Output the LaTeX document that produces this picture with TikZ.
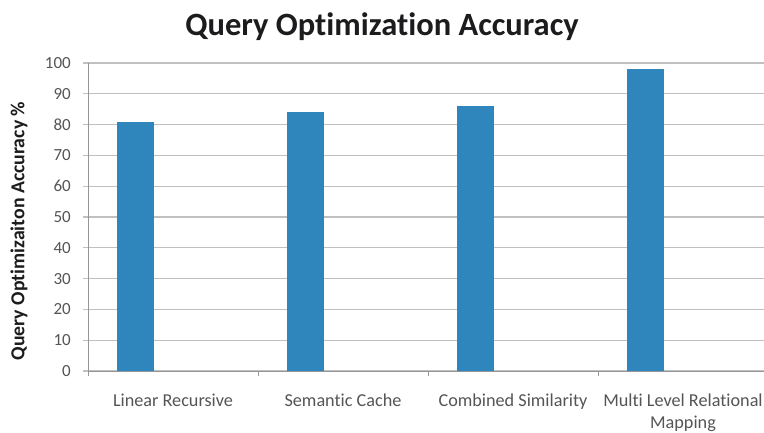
\documentclass[tikz,border=0pt]{standalone}
\usepackage{fontspec}
\setmainfont[Ligatures=NoCommon]{Carlito}
\definecolor{barblue}{RGB}{46,134,188}
\definecolor{gridgray}{RGB}{192,192,192}
\definecolor{axisgray}{RGB}{150,150,150}
\definecolor{labgray}{RGB}{85,85,85}
\definecolor{titlecol}{RGB}{28,28,30}
\begin{document}
\begin{tikzpicture}[x=1pt,y=-1pt,
  gridline/.style={draw=gridgray, line width=1.3pt},
  axisline/.style={draw=axisgray, line width=1pt},
  barbox/.style={fill=barblue, draw=none},
  ticklab/.style={anchor=east, inner sep=0pt, text=labgray, font=\fontsize{17}{20}\selectfont},
  catlab/.style={anchor=base, inner sep=0pt, text=labgray, font=\fontsize{18.2}{22}\selectfont},
  titlelab/.style={anchor=base, inner sep=0pt, text=titlecol, font=\bfseries\fontsize{32.5}{36}\selectfont},
  axislab/.style={rotate=90, inner sep=0pt, text=titlecol, font=\bfseries\fontsize{19.8}{22}\selectfont}
]
\useasboundingbox (0,0) rectangle (764,433);
\fill[white] (0,0) rectangle (764,433);
% grid and y ticks
\foreach \v in {0,1,...,10}{
  \draw[gridline] (83,{371-30.8*\v}) -- (764,{371-30.8*\v});
  \node[ticklab] (t\v) at (71,{371-30.8*\v}) {\number\numexpr\v*10\relax};
}
% axes
\coordinate (o) at (88,371);
\coordinate (ytop) at (88,63);
\coordinate (xend) at (764,371);
\draw[axisline] (ytop) -- (o) -- (xend);
\foreach \i in {0,1,2,3}{
  \draw[axisline] ({88+170*\i},371) -- ({88+170*\i},376);
}
% bars
\foreach \i/\val in {0/81,1/84,2/86,3/98}{
  \fill[barbox] ({117+170*\i},371) rectangle ({154+170*\i},{371-3.08*\val});
}
% category labels
\node[catlab] (c1) at (173,406) {Linear Recursive};
\node[catlab] (c2) at (343,406) {Semantic Cache};
\node[catlab] (c3) at (513,406) {Combined Similarity};
\node[catlab] (c4a) at (683,406) {Multi Level Relational};
\node[catlab] (c4b) at (683,428) {Mapping};
% titles
\node[titlelab] (title) at (382,36) {Query Optimization Accuracy};
\node[axislab] (ylab) at (19,231) {Query Optimizaiton Accuracy \%};
\end{tikzpicture}
\end{document}
